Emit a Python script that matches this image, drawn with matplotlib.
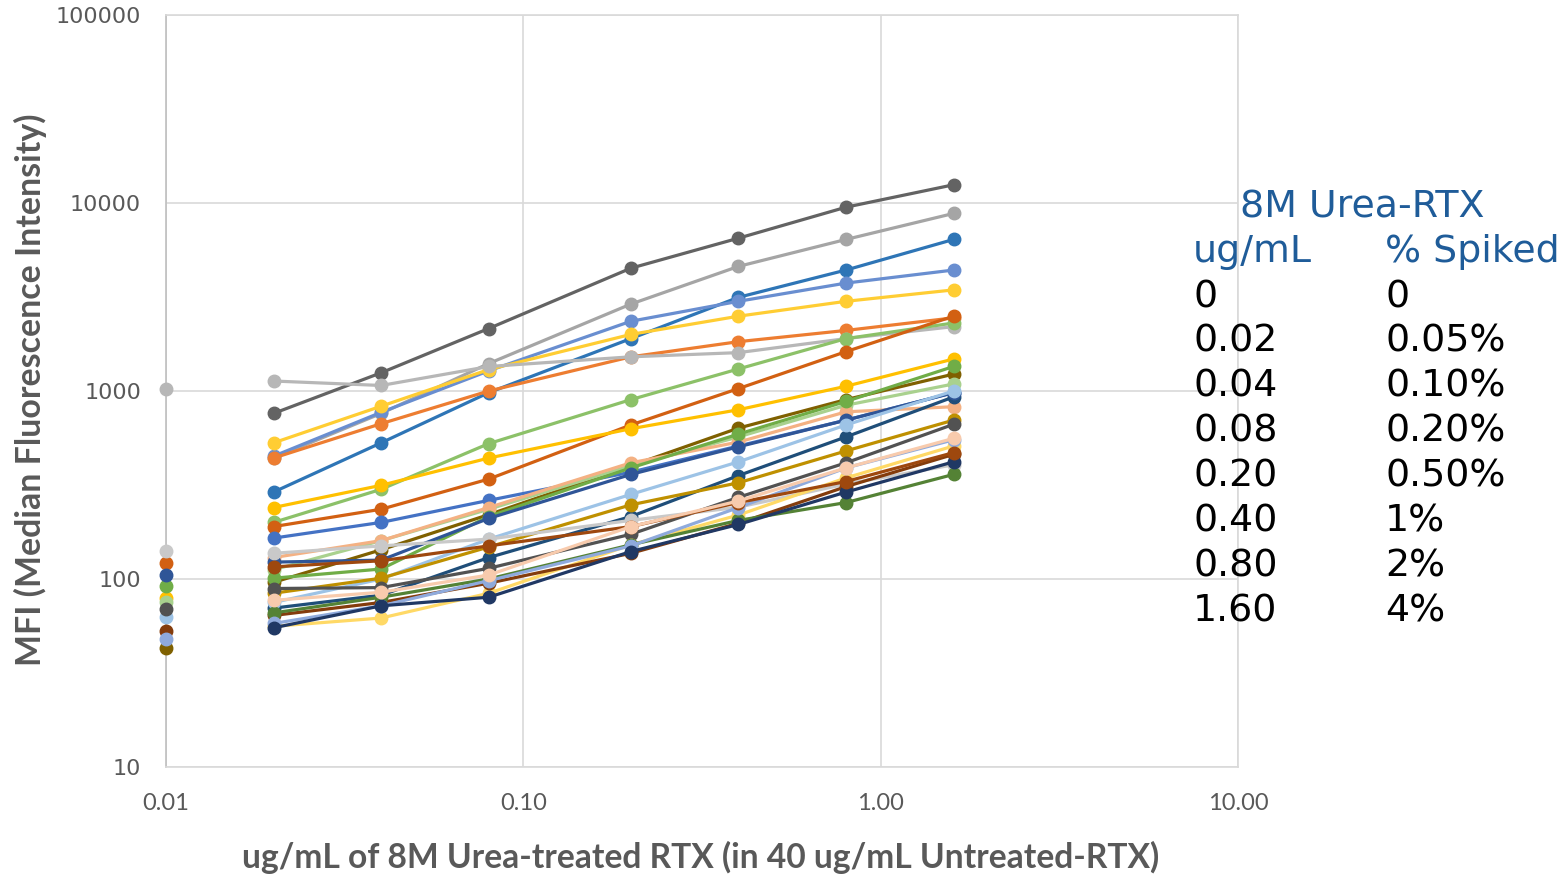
import numpy as np
import matplotlib; matplotlib.use('Agg')
import matplotlib.pyplot as plt
from matplotlib.ticker import FixedLocator, FixedFormatter, NullLocator

# concentrations (0.01 stands in for the unspiked "0" sample)
X_ZERO = 0.01
X_CONC = [0.02, 0.04, 0.08, 0.20, 0.40, 0.80, 1.60]

# each series: colour, MFI at 0 (None = not visible), MFI at X_CONC
SERIES_COLORS = ['#636363', '#A5A5A5', '#2E75B6', '#698ED0', '#FFCD33', '#ED7D31',
                 '#B7B7B7', '#8CC168', '#D26012', '#FFC000', '#4472C4', '#7F6000',
                 '#A9D18E', '#F4B183', '#70AD47', '#1F4E79', '#2F5597', '#9DC3E6',
                 '#BF9000', '#525252', '#C9C9C9', '#FFD966', '#843C0C', '#548235',
                 '#8FAADC', '#203864', '#9E480E', '#F8CBAD']
ZERO_MFI = [None, None, None, None, None, None,
            1030, None, 121, 79, None, 43,
            75, None, 92, None, 105, 63,
            None, 69, 141, None, 53, None,
            48, None, None, None]
SERIES_MFI = [
    [760, 1250, 2150, 4500, 6500, 9500, 12500],
    [440, 760, 1400, 2900, 4600, 6400, 8800],
    [290, 530, 980, 1900, 3150, 4400, 6400],
    [450, 770, 1280, 2350, 3000, 3750, 4400],
    [530, 830, 1300, 2000, 2500, 3000, 3450],
    [440, 670, 1000, 1520, 1830, 2100, 2450],
    [1130, 1070, 1350, 1520, 1600, 1900, 2200],
    [200, 300, 525, 900, 1310, 1900, 2300],
    [190, 235, 340, 660, 1030, 1620, 2500],
    [240, 315, 440, 630, 795, 1060, 1480],
    [165, 200, 262, 370, 510, 700, 980],
    [96, 143, 220, 400, 635, 900, 1230],
    [112, 160, 235, 400, 570, 840, 1090],
    [130, 160, 240, 415, 535, 775, 825],
    [101, 113, 215, 390, 590, 880, 1350],
    [70, 82, 130, 215, 355, 570, 930],
    [123, 126, 210, 360, 505, 700, 980],
    [75, 100, 163, 282, 420, 660, 1000],
    [84, 101, 148, 248, 325, 480, 700],
    [89, 90, 114, 173, 272, 415, 665],
    [137, 150, 163, 205, 241, 320, 405],
    [56, 62, 84, 152, 219, 345, 510],
    [64, 75, 95, 137, 198, 310, 460],
    [66, 80, 100, 152, 205, 255, 360],
    [58, 72, 98, 150, 240, 390, 550],
    [55, 72, 80, 140, 195, 290, 420],
    [116, 125, 150, 190, 255, 330, 470],
    [77, 85, 105, 190, 260, 390, 560],
]

X_TICKS = [0.01, 0.1, 1, 10]
X_TICK_LABELS = ['0.01', '0.10', '1.00', '10.00']
Y_TICKS = [10, 100, 1000, 10000, 100000]
Y_TICK_LABELS = ['10', '100', '1000', '10000', '100000']

TABLE_TITLE = '8M Urea-RTX'
TABLE_HEAD = ['ug/mL', '% Spiked']
TABLE_UG = ['0', '0.02', '0.04', '0.08', '0.20', '0.40', '0.80', '1.60']
TABLE_PCT = ['0', '0.05%', '0.10%', '0.20%', '0.50%', '1%', '2%', '4%']

NARROW = ['Lato', 'DejaVu Sans']
GRID = '#D9D9D9'; TICK = '#595959'; BLUE_TXT = '#1F5C99'

def px(x, y):
    return x/1567, 1-y/875

fig = plt.figure(figsize=(15.67, 8.75), dpi=100)
fig.patch.set_facecolor('white')
ax = fig.add_axes([166/1567, 1-767/875, (1238-166)/1567, (767-15)/875])
ax.set_xscale('log'); ax.set_yscale('log')
ax.set_xlim(0.01, 10); ax.set_ylim(10, 100000)

for c, z, ys in zip(SERIES_COLORS, ZERO_MFI, SERIES_MFI):
    ax.plot(X_CONC, ys, color=c, lw=2.3, marker='o', ms=9, mec=c, mfc=c, zorder=3, clip_on=False)
    if z is not None:
        ax.plot([X_ZERO], [z], ls='none', marker='o', ms=9, color=c, zorder=3, clip_on=False)

ax.xaxis.set_major_locator(FixedLocator(X_TICKS)); ax.xaxis.set_major_formatter(FixedFormatter(X_TICK_LABELS))
ax.yaxis.set_major_locator(FixedLocator(Y_TICKS)); ax.yaxis.set_major_formatter(FixedFormatter(Y_TICK_LABELS))
ax.xaxis.set_minor_locator(NullLocator()); ax.yaxis.set_minor_locator(NullLocator())
ax.grid(True, color=GRID, lw=1.2, zorder=0)
ax.set_axisbelow(True)
for s in ax.spines.values(): s.set_color(GRID); s.set_linewidth(1.2)
ax.spines['left'].set_color('#BFBFBF')
ax.tick_params(length=0, colors=TICK)
ax.tick_params(axis='y', pad=18, labelsize=16)
ax.tick_params(axis='x', pad=19, labelsize=17)
for lab in ax.get_xticklabels(): lab.set_family(NARROW)

fig.text(*px(701, 857), 'ug/mL of 8M Urea-treated RTX (in 40 ug/mL Untreated-RTX)', family=NARROW,
         fontsize=24.2, fontweight='bold', color=TICK, ha='center', va='center')
fig.text(*px(30, 390), 'MFI (Median Fluorescence Intensity)', family=NARROW, rotation=90,
         fontsize=24.4, fontweight='bold', color=TICK, ha='center', va='center')

# text table on the right
fs = 27.3
fig.text(*px(1240, 207), TABLE_TITLE, fontsize=fs, color=BLUE_TXT, va='center', ha='left')
fig.text(*px(1193, 252), TABLE_HEAD[0], fontsize=fs, color=BLUE_TXT, va='center', ha='left')
fig.text(*px(1385, 252), TABLE_HEAD[1], fontsize=fs, color=BLUE_TXT, va='center', ha='left')
for i, (u, p) in enumerate(zip(TABLE_UG, TABLE_PCT)):
    y = 297 + i*44.9
    fig.text(*px(1193, y), u, fontsize=fs, color='black', va='center', ha='left')
    fig.text(*px(1385, y), p, fontsize=fs, color='black', va='center', ha='left')

fig.savefig('out.png', dpi=100, facecolor='white')
